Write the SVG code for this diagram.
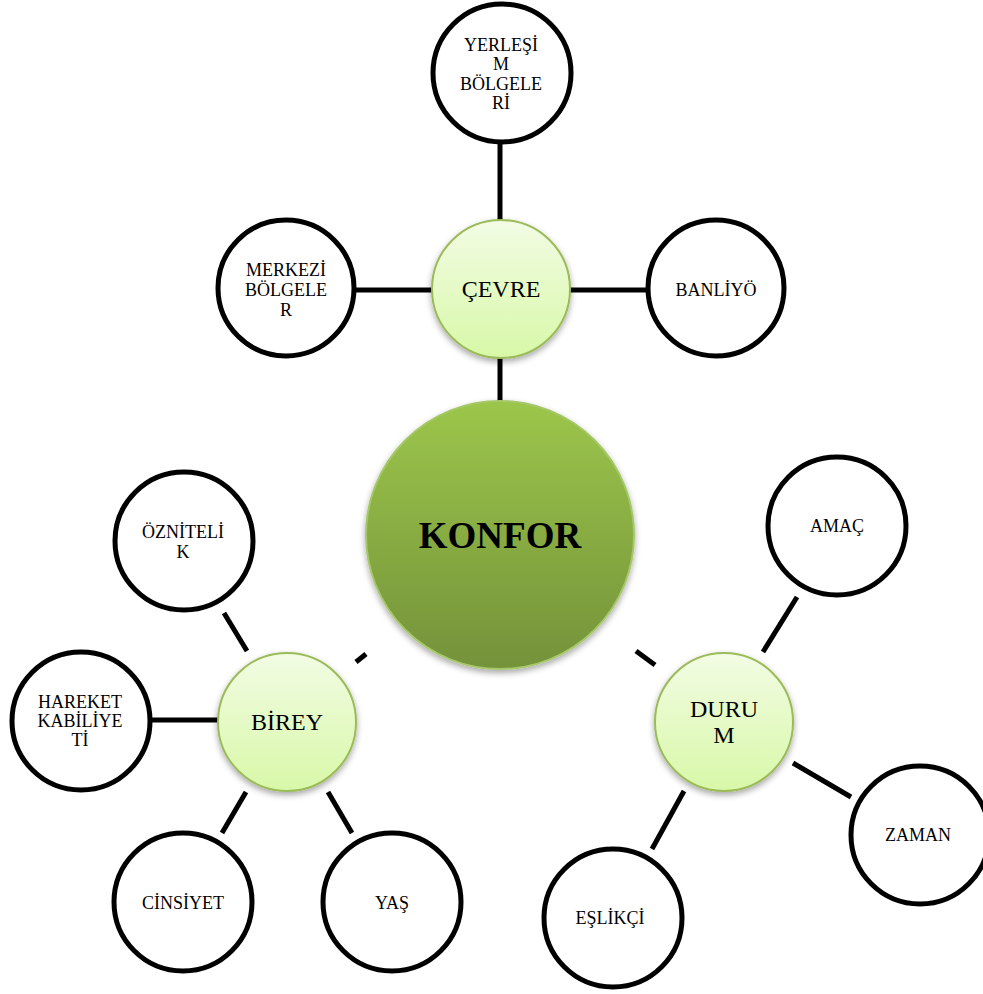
<svg xmlns="http://www.w3.org/2000/svg" width="983" height="994" viewBox="0 0 983 994">
<defs>
<linearGradient id="gMain" x1="0" y1="0" x2="0" y2="1">
<stop offset="0" stop-color="#9cc64b"/>
<stop offset="1" stop-color="#74923a"/>
</linearGradient>
<linearGradient id="gSub" x1="0" y1="0" x2="0" y2="1">
<stop offset="0" stop-color="#f2fce4"/>
<stop offset="1" stop-color="#d8f8a8"/>
</linearGradient>
<filter id="sh" x="-20%" y="-20%" width="140%" height="150%">
<feDropShadow dx="0" dy="3" stdDeviation="3" flood-color="#000" flood-opacity="0.35"/>
</filter>
<style>
.c{stroke:#000;stroke-width:5;stroke-linecap:butt;fill:none}
.o{fill:#fff;stroke:#000;stroke-width:5}
.s{fill:url(#gSub);stroke:#9bbb59;stroke-width:2;filter:url(#sh)}
.m{fill:url(#gMain);stroke:#a6c86a;stroke-width:2;filter:url(#sh)}
text{font-family:"Liberation Serif","Times New Roman",serif;text-anchor:middle;fill:#000}
.t{font-size:18px}
.ts{font-size:24px}
.tm{font-size:37px;font-weight:bold}
</style>
</defs>
<g id="connectors">
<line class="c" x1="500" y1="144" x2="500" y2="221"/>
<line class="c" x1="500" y1="357" x2="500" y2="403"/>
<line class="c" x1="356" y1="290" x2="433" y2="290"/>
<line class="c" x1="569" y1="290" x2="646" y2="290"/>
<line class="c" x1="356" y1="662" x2="366" y2="654"/>
<line class="c" x1="636" y1="651" x2="655" y2="665"/>
<line class="c" x1="224" y1="613" x2="247" y2="651"/>
<line class="c" x1="152" y1="720" x2="219" y2="720"/>
<line class="c" x1="246" y1="792" x2="222" y2="833"/>
<line class="c" x1="328" y1="792" x2="352" y2="833"/>
<line class="c" x1="763" y1="652" x2="797" y2="597"/>
<line class="c" x1="793" y1="763" x2="851" y2="797"/>
<line class="c" x1="684" y1="791" x2="652" y2="849"/>
</g>
<g id="n-konfor"><circle class="m" cx="500" cy="535" r="134"/><text class="tm" x="500" y="548">KONFOR</text></g>
<g id="n-cevre"><circle class="s" cx="501" cy="289" r="69"/><text class="ts" x="501" y="297">ÇEVRE</text></g>
<g id="n-birey"><circle class="s" cx="287" cy="722" r="69"/><text class="ts" x="287" y="730">BİREY</text></g>
<g id="n-durum"><circle class="s" cx="724" cy="722" r="69"/><text class="ts" x="724" y="717">DURU</text><text class="ts" x="724" y="743">M</text></g>
<g id="n-yerlesim"><circle class="o" cx="502" cy="73" r="69"/><text class="t" x="501"><tspan x="501" y="51">YERLEŞİ</tspan><tspan x="501" y="70">M</tspan><tspan x="501" y="90">BÖLGELE</tspan><tspan x="501" y="109">Rİ</tspan></text></g>
<g id="n-merkezi"><circle class="o" cx="286" cy="288" r="68"/><text class="t"><tspan x="286" y="276">MERKEZİ</tspan><tspan x="286" y="296">BÖLGELE</tspan><tspan x="286" y="316">R</tspan></text></g>
<g id="n-banliyo"><circle class="o" cx="716" cy="288" r="68"/><text class="t" x="716" y="296">BANLİYÖ</text></g>
<g id="n-oznitelik"><circle class="o" cx="184" cy="541" r="69"/><text class="t"><tspan x="183" y="538">ÖZNİTELİ</tspan><tspan x="183" y="558">K</tspan></text></g>
<g id="n-hareket"><circle class="o" cx="81" cy="721" r="69"/><text class="t"><tspan x="80" y="708">HAREKET</tspan><tspan x="80" y="727">KABİLİYE</tspan><tspan x="80" y="746">Tİ</tspan></text></g>
<g id="n-cinsiyet"><circle class="o" cx="183" cy="902" r="69"/><text class="t" x="183" y="909">CİNSİYET</text></g>
<g id="n-yas"><circle class="o" cx="392" cy="902" r="69"/><text class="t" x="392" y="909">YAŞ</text></g>
<g id="n-amac"><circle class="o" cx="837" cy="526" r="69"/><text class="t" x="837" y="532">AMAÇ</text></g>
<g id="n-zaman"><circle class="o" cx="920" cy="835" r="69"/><text class="t" x="918" y="841">ZAMAN</text></g>
<g id="n-eslikci"><circle class="o" cx="613" cy="918" r="69"/><text class="t" x="610" y="924">EŞLİKÇİ</text></g>
</svg>
